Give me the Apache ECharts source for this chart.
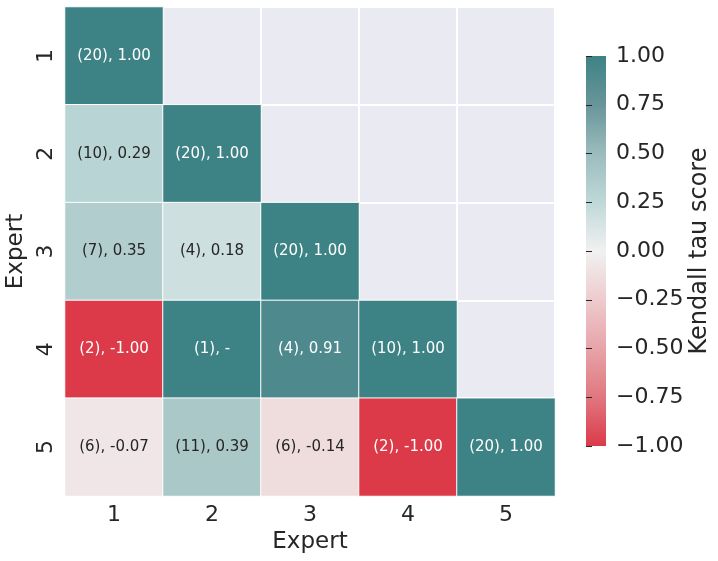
<!DOCTYPE html>
<html>
<head>
<meta charset="utf-8">
<script src="https://cdn.jsdelivr.net/npm/echarts@6/dist/echarts.min.js"></script>
<style>
  html, body { margin: 0; padding: 0; background: #fff; }
</style>
</head>
<body>
<div id="main" style="width: 718px;height:561px;"></div>
<script type="text/javascript">
    // 专家编号（行 / 列）
    var experts = ['1', '2', '3', '4', '5'];
    // 每对专家的共同样本数（下三角）
    var pairCounts = [
        [20],
        [10, 20],
        [7, 4, 20],
        [2, 1, 4, 10],
        [6, 11, 6, 2, 20]
    ];
    // Kendall tau 取值（用于着色）
    var tauValues = [
        [1.00],
        [0.29, 1.00],
        [0.35, 0.18, 1.00],
        [-1.00, 1.00, 0.91, 1.00],
        [-0.07, 0.39, -0.14, -1.00, 1.00]
    ];
    // 单元格里显示的 tau 文本
    var tauText = [
        ['1.00'],
        ['0.29', '1.00'],
        ['0.35', '0.18', '1.00'],
        ['-1.00', '-', '0.91', '1.00'],
        ['-0.07', '0.39', '-0.14', '-1.00', '1.00']
    ];
    var colorbarTicks = [-1, -0.75, -0.5, -0.25, 0, 0.25, 0.5, 0.75, 1];

    var font = 'DejaVu Sans';
    var textColor = '#262626';
    // 颜色：-1 -> 1
    var palette = ['#dc3a48', '#e0777f', '#e7a4a9', '#eecbce', '#f1f1f1',
                   '#bfd8d8', '#9bbcbd', '#69959a', '#3d8285'];

    var cells = [];
    for (var r = 0; r < tauValues.length; r++) {
        for (var c = 0; c < tauValues[r].length; c++) {
            var v = tauValues[r][c];
            cells.push({
                value: [c, r, v],
                label: {
                    formatter: '(' + pairCounts[r][c] + '), ' + tauText[r][c],
                    color: Math.abs(v) > 0.6 ? '#ffffff' : textColor
                }
            });
        }
    }

    // 色条背景（从上到下 1 -> -1）
    var barStops = palette.slice().reverse().map(function (col, i) {
        return { offset: i / (palette.length - 1), color: col };
    });

    var myChart = echarts.init(document.getElementById('main'));
    var option = {
        backgroundColor: '#ffffff',
        textStyle: { fontFamily: font },
        grid: [{
            left: 65, top: 7, width: 490, height: 489,
            show: true, backgroundColor: '#EAEAF2', borderWidth: 0,
            outerBoundsMode: 'none', containLabel: false
        }, {
            left: 586, top: 56, width: 20, height: 390,
            show: true, borderWidth: 0,
            backgroundColor: new echarts.graphic.LinearGradient(0, 0, 0, 1, barStops),
            outerBoundsMode: 'none', containLabel: false
        }],
        xAxis: [{
            type: 'category', data: experts, gridIndex: 0,
            name: 'Expert', nameLocation: 'middle', nameGap: 34,
            nameTextStyle: { fontSize: 23, color: textColor, fontFamily: font },
            axisLine: { show: false }, axisTick: { show: false },
            axisLabel: { fontSize: 22, color: textColor, margin: 8, fontFamily: font },
            splitLine: { show: true, interval: 0, lineStyle: { color: '#ffffff', width: 2 } }
        }, {
            type: 'value', gridIndex: 1, min: 0, max: 1, show: false
        }],
        yAxis: [{
            type: 'category', data: experts, gridIndex: 0, inverse: true,
            name: 'Expert', nameLocation: 'middle', nameGap: 19, nameRotate: 90,
            nameTextStyle: { fontSize: 23, color: textColor, fontFamily: font },
            axisLine: { show: false }, axisTick: { show: false },
            axisLabel: { fontSize: 22, color: textColor, rotate: 90, margin: 8, fontFamily: font },
            splitLine: { show: true, interval: 0, lineStyle: { color: '#ffffff', width: 2 } }
        }, {
            type: 'value', gridIndex: 1, position: 'right',
            min: -1, max: 1, interval: 0.25,
            name: 'Kendall tau score', nameLocation: 'middle', nameGap: 82, nameRotate: 90,
            nameTextStyle: { fontSize: 24, color: textColor, fontFamily: font },
            axisLine: { show: false },
            axisTick: { show: true, length: 6, inside: false, lineStyle: { color: textColor, width: 1 } },
            axisLabel: {
                fontSize: 22, color: textColor, margin: 10, align: 'left', fontFamily: font,
                formatter: function (v) {
                    return (v < 0 ? '\u2212' : '') + Math.abs(v).toFixed(2);
                }
            },
            splitLine: { show: false }
        }],
        visualMap: {
            type: 'continuous', min: -1, max: 1,
            seriesIndex: 0, show: false,
            inRange: { color: palette }
        },
        series: [{
            type: 'heatmap',
            xAxisIndex: 0, yAxisIndex: 0,
            data: cells,
            itemStyle: { borderColor: '#ffffff', borderWidth: 1 },
            label: { show: true, fontSize: 15, fontFamily: font }
        }, {
            type: 'scatter',
            xAxisIndex: 1, yAxisIndex: 1,
            data: colorbarTicks.map(function (t) { return [0, t]; }),
            symbolSize: 0, silent: true
        }]
    };
    myChart.setOption(option);
</script>
</body>
</html>
